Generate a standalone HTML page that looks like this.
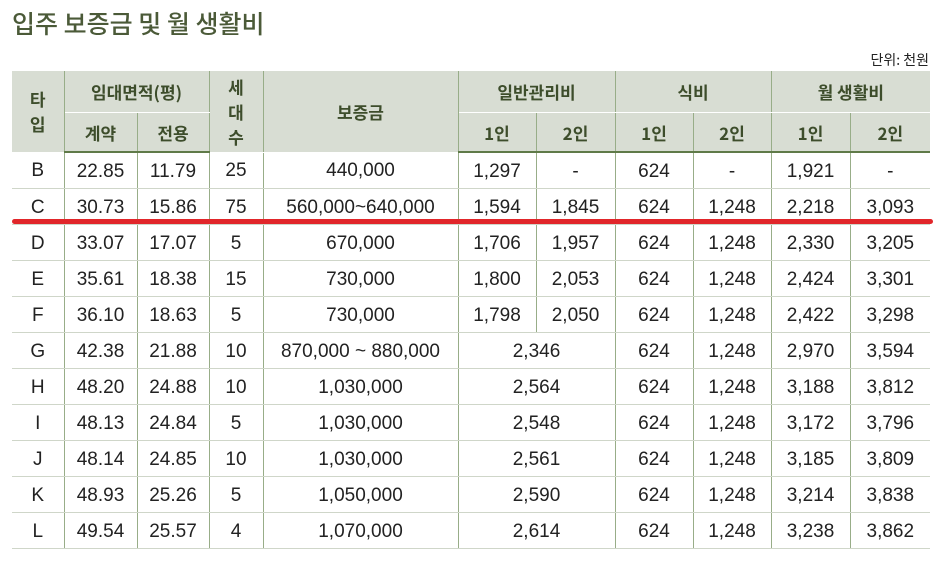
<!DOCTYPE html>
<html><head><meta charset="utf-8">
<style>
body{margin:0;width:941px;height:561px;background:#fff;position:relative;overflow:hidden;font-family:"Liberation Sans","Noto Sans CJK KR",sans-serif;}
#title{position:absolute;left:12px;top:5px;font-size:25px;color:#4b5a38;font-family:"Noto Sans CJK KR",sans-serif;font-weight:500;}
#unit{position:absolute;right:12px;top:50px;font-size:14px;color:#222;font-family:"Noto Sans CJK KR",sans-serif;}
table{position:absolute;left:12px;top:71px;border-collapse:collapse;table-layout:fixed;width:918px;}
th{background:#d8ddd3;color:#3d4d2b;font-family:"Noto Sans CJK KR",sans-serif;font-weight:700;font-size:17px;border-left:1px solid #98ad88;border-right:1px solid #98ad88;border-bottom:1px solid #fff;padding:0;}
tr.h1 th{height:41px;}
tr.h2 th{height:38px;border-bottom:2px solid #5f7a48;}
td{height:33px;border-left:1px solid #98ad88;border-right:1px solid #98ad88;border-bottom:1px solid #cfd6c9;text-align:center;font-size:19px;color:#222;padding:2px 0 0 0;}
th:first-child,td:first-child{border-left:none;}
th:last-child,td:last-child{border-right:none;}
#red{position:absolute;left:12px;top:219px;width:921px;height:5px;border-radius:3px;background:#e1262a;}
</style></head><body>
<div id="title">입주 보증금 및 월 생활비</div>
<div id="unit">단위: 천원</div>
<table>
<colgroup><col style="width:52px"><col style="width:73px"><col style="width:72px"><col style="width:54px"><col style="width:195px"><col style="width:78px"><col style="width:79px"><col style="width:78px"><col style="width:78px"><col style="width:79px"><col style="width:80px"></colgroup>
<thead>
<tr class="h1"><th rowspan="2">타<br>입</th><th colspan="2">임대면적(평)</th><th rowspan="2" style="line-height:25px">세<br>대<br>수</th><th rowspan="2">보증금</th><th colspan="2">일반관리비</th><th colspan="2">식비</th><th colspan="2">월 생활비</th></tr>
<tr class="h2"><th>계약</th><th>전용</th><th>1인</th><th>2인</th><th>1인</th><th>2인</th><th>1인</th><th>2인</th></tr>
</thead>
<tbody id="tb"></tbody>
</table>
<div id="red"></div>
<script>
const types=["B","C","D","E","F","G","H","I","J","K","L"];
const contract=["22.85","30.73","33.07","35.61","36.10","42.38","48.20","48.13","48.14","48.93","49.54"];
const exclusive=["11.79","15.86","17.07","18.38","18.63","21.88","24.88","24.84","24.85","25.26","25.57"];
const households=["25","75","5","15","5","10","10","5","10","5","4"];
const deposit=["440,000","560,000~640,000","670,000","730,000","730,000","870,000 ~ 880,000","1,030,000","1,030,000","1,030,000","1,050,000","1,070,000"];
const mgmt1=["1,297","1,594","1,706","1,800","1,798","2,346","2,564","2,548","2,561","2,590","2,614"];
const mgmt2=["-","1,845","1,957","2,053","2,050",null,null,null,null,null,null];
const food1=["624","624","624","624","624","624","624","624","624","624","624"];
const food2=["-","1,248","1,248","1,248","1,248","1,248","1,248","1,248","1,248","1,248","1,248"];
const live1=["1,921","2,218","2,330","2,424","2,422","2,970","3,188","3,172","3,185","3,214","3,238"];
const live2=["-","3,093","3,205","3,301","3,298","3,594","3,812","3,796","3,809","3,838","3,862"];
const tb=document.getElementById('tb');
types.forEach((t,i)=>{
  const tr=document.createElement('tr');
  
  
  const cells=[[t,1],[contract[i],1],[exclusive[i],1],[households[i],1],[deposit[i],1]];
  if(mgmt2[i]===null){cells.push([mgmt1[i],2]);}else{cells.push([mgmt1[i],1]);cells.push([mgmt2[i],1]);}
  cells.push([food1[i],1],[food2[i],1],[live1[i],1],[live2[i],1]);
  cells.forEach(c=>{
    const td=document.createElement('td');
    td.textContent=c[0];
    if(c[1]>1)td.colSpan=c[1];
    
    
    tr.appendChild(td);
  });
  tb.appendChild(tr);
});
</script>
</body></html>
